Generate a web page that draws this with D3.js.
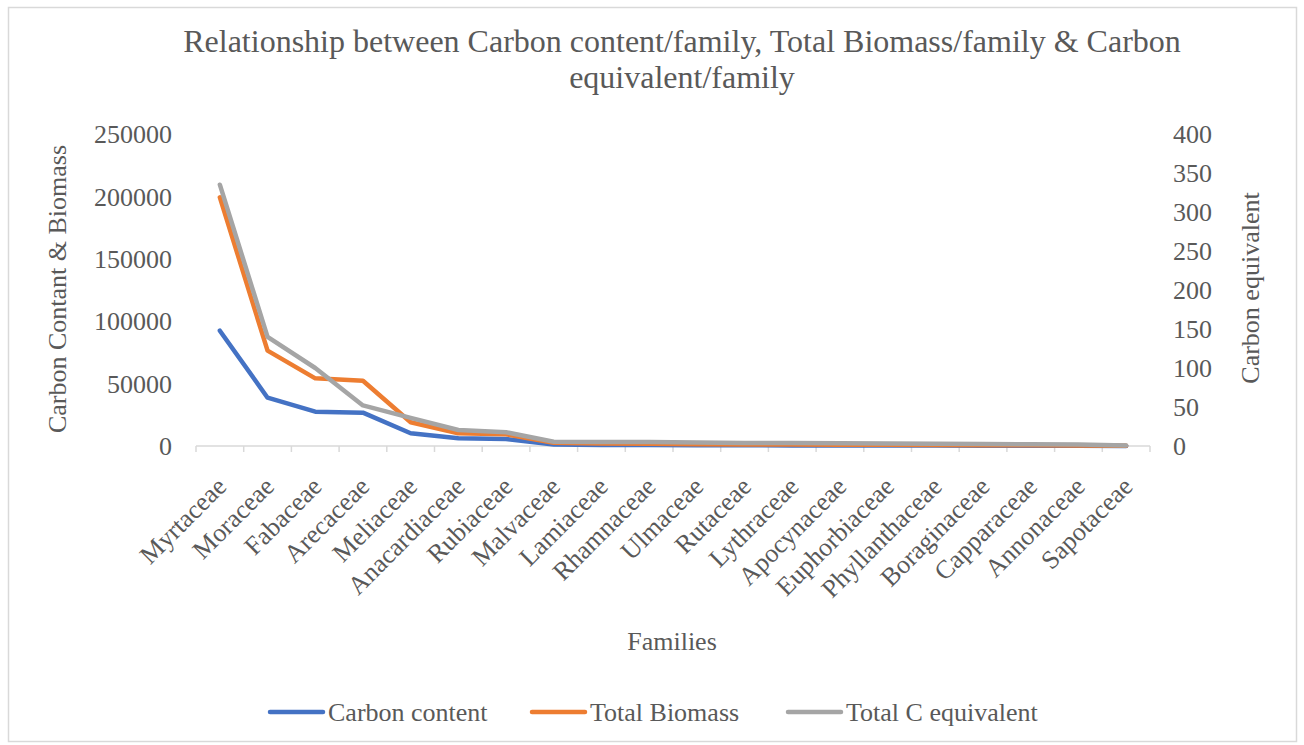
<!DOCTYPE html>
<html><head><meta charset="utf-8">
<script src="https://cdn.jsdelivr.net/npm/d3@7"></script>
<style>body{margin:0;background:#fff}svg{display:block}text{font-family:"Liberation Serif","Times New Roman",serif;fill:#595959}</style>
</head><body>
<svg id="c" width="1304" height="745"></svg>
<script>
const categories = ["Myrtaceae","Moraceae","Fabaceae","Arecaceae","Meliaceae","Anacardiaceae","Rubiaceae","Malvaceae","Lamiaceae","Rhamnaceae","Ulmaceae","Rutaceae","Lythraceae","Apocynaceae","Euphorbiaceae","Phyllanthaceae","Boraginaceae","Capparaceae","Annonaceae","Sapotaceae"];
const carbonContent = [92400,38700,27500,26700,10200,6200,5600,1200,900,800,650,550,500,450,400,350,300,250,200,100];
const totalBiomass = [199300,76400,54200,52300,19000,10200,9400,2600,2000,1800,1500,1300,1200,1100,1000,900,700,600,500,200];
const totalCEquivalent = [335,140,100,52,36,20.5,17.6,5.5,5.2,5.0,4.5,4.0,3.7,3.5,3.2,3.0,2.5,2.2,1.8,0.8];
const leftTicks = [0,50000,100000,150000,200000,250000];
const rightTicks = [0,50,100,150,200,250,300,350,400];
const seriesNames = ["Carbon content","Total Biomass","Total C equivalent"];
const colors = ["#4472C4","#ED7D31","#A5A5A5"];

const svg = d3.select("#c");
svg.append("rect").attr("x",8.5).attr("y",7.5).attr("width",1288).attr("height",734)
  .attr("fill","#fff").attr("stroke","#d9d9d9").attr("stroke-width",1.5);

const x = d3.scaleBand().domain(categories).range([196,1150]).padding(0);
const yL = d3.scaleLinear().domain([0,250000]).range([446,134]);
const yR = d3.scaleLinear().domain([0,400]).range([446,134]);

// title
const title = svg.append("text").attr("text-anchor","middle").style("font-size","32px");
title.append("tspan").attr("x",682).attr("y",52).text("Relationship between Carbon content/family, Total Biomass/family & Carbon");
title.append("tspan").attr("x",682).attr("y",88).text("equivalent/family");

// left axis labels
svg.append("g").selectAll("text").data(leftTicks).join("text")
  .attr("x",172).attr("y",d=>yL(d)).attr("dy","0.35em").attr("text-anchor","end")
  .style("font-size","26px").text(d=>d);
// right axis labels
svg.append("g").selectAll("text").data(rightTicks).join("text")
  .attr("x",1173).attr("y",d=>yR(d)).attr("dy","0.35em").attr("text-anchor","start")
  .style("font-size","26px").text(d=>d);

// x axis line and ticks
const xa = svg.append("g");
xa.append("line").attr("x1",196).attr("x2",1150).attr("y1",446).attr("y2",446)
  .attr("stroke","#d9d9d9").attr("stroke-width",1.5);
const bounds = categories.map(c=>x(c)).concat([x.range()[1]]);
xa.selectAll("line.t").data(bounds).join("line").attr("class","t")
  .attr("x1",d=>d).attr("x2",d=>d).attr("y1",446).attr("y2",452)
  .attr("stroke","#d9d9d9").attr("stroke-width",1.5);

// category labels
svg.append("g").selectAll("text").data(categories).join("text")
  .attr("text-anchor","end").style("font-size","26px")
  .attr("transform",d=>`translate(${x(d)+x.bandwidth()/2+8},${488}) rotate(-45)`)
  .text(d=>d);

// axis titles
svg.append("text").attr("transform","translate(66,289) rotate(-90)").attr("text-anchor","middle")
  .style("font-size","26px").text("Carbon Contant & Biomass");
svg.append("text").attr("transform","translate(1259,288) rotate(-90)").attr("text-anchor","middle")
  .style("font-size","26px").text("Carbon equivalent");
svg.append("text").attr("x",672).attr("y",650).attr("text-anchor","middle")
  .style("font-size","26px").text("Families");

// lines
const cx = d=>x(d)+x.bandwidth()/2;
const lineL = d3.line().x((v,i)=>cx(categories[i])).y(v=>yL(v));
const lineR = d3.line().x((v,i)=>cx(categories[i])).y(v=>yR(v));
const g = svg.append("g").attr("fill","none").attr("stroke-width",4.5).attr("stroke-linejoin","round").attr("stroke-linecap","round");
g.append("path").attr("d",lineL(carbonContent)).attr("stroke",colors[0]);
g.append("path").attr("d",lineL(totalBiomass)).attr("stroke",colors[1]);
g.append("path").attr("d",lineR(totalCEquivalent)).attr("stroke",colors[2]);

// legend
const legX = [270,532,788];
const lg = svg.append("g");
seriesNames.forEach((n,i)=>{
  lg.append("line").attr("x1",legX[i]).attr("x2",legX[i]+53).attr("y1",712).attr("y2",712)
    .attr("stroke",colors[i]).attr("stroke-width",4.5).attr("stroke-linecap","round");
  lg.append("text").attr("x",legX[i]+58).attr("y",712).attr("dy","0.35em")
    .style("font-size","26px").text(n);
});
</script>
</body></html>
